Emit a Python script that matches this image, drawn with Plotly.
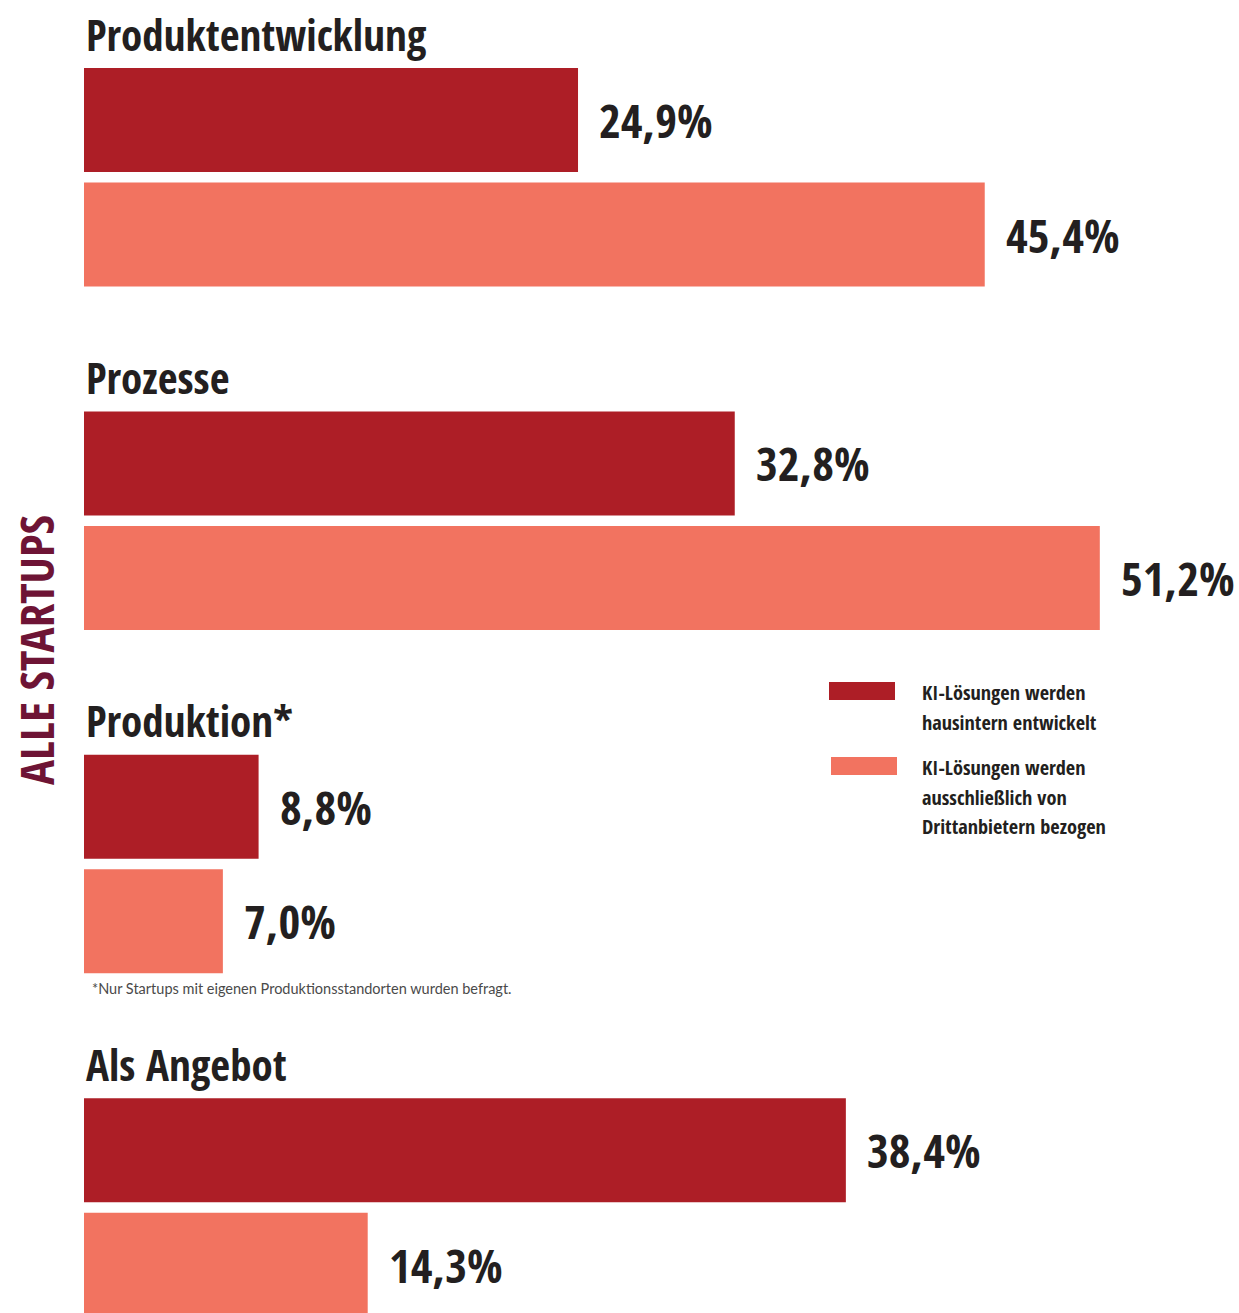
import plotly.graph_objects as go

# ---------------- data ----------------
categories = ["Produktentwicklung", "Prozesse", "Produktion*", "Als Angebot"]
series_names = [
    "KI-Lösungen werden<br>hausintern entwickelt",
    "KI-Lösungen werden<br>ausschließlich von<br>Drittanbietern bezogen",
]
inhouse = [24.9, 32.8, 8.8, 38.4]
third_party = [45.4, 51.2, 7.0, 14.3]
side_label = "ALLE STARTUPS"
footnote = "*Nur Startups mit eigenen Produktionsstandorten wurden befragt."

# ---------------- layout constants ----------------
W, H = 1239, 1313
PX_PER_PCT = 19.84
X0 = 84
FIRST_CENTER = 120
GROUP_PITCH = 343.4
PAIR_OFFSET = 114.5
BAR_THICK = 104

DARK = "#AD1E26"
LIGHT = "#F27360"
TEXT = "#231F20"
SIDE = "#6E1435"
COND = "Open Sans Condensed, Roboto Condensed, DejaVu Sans Condensed, sans-serif"

dark_y = [FIRST_CENTER + g * GROUP_PITCH for g in range(len(categories))]
light_y = [c + PAIR_OFFSET for c in dark_y]


def fmt(v):
    return f"{v:.1f}%".replace(".", ",")


fig = go.Figure()
fig.add_trace(go.Bar(orientation="h", x=inhouse, y=dark_y, width=BAR_THICK,
                     marker=dict(color=DARK, line=dict(width=0)),
                     name=series_names[0].replace("<br>", " "), hoverinfo="x"))
fig.add_trace(go.Bar(orientation="h", x=third_party, y=light_y, width=BAR_THICK,
                     marker=dict(color=LIGHT, line=dict(width=0)),
                     name=series_names[1].replace("<br>", " "), hoverinfo="x"))

ann = []
for vals, ys in ((inhouse, dark_y), (third_party, light_y)):
    for v, y in zip(vals, ys):
        ann.append(dict(x=v, y=y, xref="x", yref="y", text=fmt(v), showarrow=False,
                        xanchor="left", yanchor="middle", xshift=19,
                        font=dict(family=COND, size=47, color=TEXT, weight=700)))
for cat, y in zip(categories, dark_y):
    ann.append(dict(x=0, y=y - 86, xref="x", yref="y", text=cat, showarrow=False,
                    xanchor="left", yanchor="middle", xshift=0,
                    font=dict(family=COND, size=43, color=TEXT, weight=700)))
ann.append(dict(x=36 / W, y=1 - 650 / H, xref="paper", yref="paper", text=side_label,
                showarrow=False, textangle=-90, xanchor="center", yanchor="middle",
                font=dict(family=COND, size=47, color=SIDE, weight=700)))
ann.append(dict(x=90 / W, y=1 - 988 / H, xref="paper", yref="paper", text=footnote,
                showarrow=False, xanchor="left", yanchor="middle",
                font=dict(family="Lato, Noto Sans, sans-serif", size=14.5, color="#4A4A4A")))

# legend (swatch + text lines)
legend_first_line = [692, 767]
LINE_STEP = 29.5
for name, y0 in zip(series_names, legend_first_line):
    for i, line in enumerate(name.split("<br>")):
        ann.append(dict(x=920 / W, y=1 - (y0 + i * LINE_STEP) / H, xref="paper", yref="paper",
                        text=line, showarrow=False, xanchor="left", yanchor="middle",
                        align="left",
                        font=dict(family=COND, size=20.3, color=TEXT, weight=700)))

shapes = []
swatches = [(829, 682, DARK), (831, 757, LIGHT)]
for sx, sy, col in swatches:
    shapes.append(dict(type="rect", xref="paper", yref="paper",
                       x0=sx / W, x1=(sx + 66) / W, y0=1 - sy / H, y1=1 - (sy + 18) / H,
                       fillcolor=col, line=dict(width=0)))

fig.update_layout(
    width=W, height=H,
    margin=dict(l=0, r=0, t=0, b=0, pad=0),
    paper_bgcolor="white", plot_bgcolor="white",
    barmode="overlay", showlegend=False,
    xaxis=dict(range=[-X0 / PX_PER_PCT, (W - X0) / PX_PER_PCT], visible=False, fixedrange=True),
    yaxis=dict(range=[H, 0], visible=False, fixedrange=True),
    annotations=ann, shapes=shapes,
)

fig.write_html("out.html", config={"displayModeBar": False},
               post_script="document.body.style.margin='0';")
